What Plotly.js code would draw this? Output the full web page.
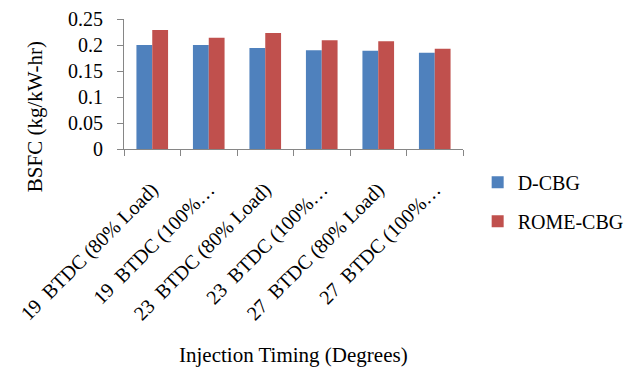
<!DOCTYPE html>
<html>
<head>
<meta charset="utf-8">
<script src="https://cdn.plot.ly/plotly-3.0.1.min.js"></script>
<style>html,body{margin:0;padding:0;background:#fff;}#chart{width:631px;height:376px;}</style>
</head>
<body>
<div id="chart"></div>
<script>
const categories = ["19 BTDC (80% Load)", "19 BTDC (100% Load)", "23 BTDC (80% Load)", "23 BTDC (100% Load)", "27 BTDC (80% Load)", "27 BTDC (100% Load)"];
const tickLabels = ["19\u00a0\u00a0BTDC (80% Load)", "19\u00a0\u00a0BTDC (100%\u2026", "23\u00a0\u00a0BTDC (80% Load)", "23\u00a0\u00a0BTDC (100%\u2026", "27\u00a0\u00a0BTDC (80% Load)", "27\u00a0\u00a0BTDC (100%\u2026"];
const dCBG = [0.200, 0.200, 0.194, 0.190, 0.189, 0.185];
const romeCBG = [0.229, 0.214, 0.223, 0.209, 0.207, 0.193];
const yTicks = [0, 0.05, 0.1, 0.15, 0.2, 0.25];

const font = "Liberation Serif";
const axisColor = "#868686";

const data = [
  {type: "bar", name: "D-CBG", x: categories, y: dCBG, marker: {color: "#4F81BD"}, legendgroup: "a"},
  {type: "bar", name: "ROME-CBG", x: categories, y: romeCBG, marker: {color: "#C0504D"}, legendgroup: "b"}
];

const layout = {
  width: 631, height: 376,
  margin: {l: 124, r: 168, t: 19, b: 227, pad: 0},
  paper_bgcolor: "#fff", plot_bgcolor: "#fff",
  font: {family: font, size: 20, color: "#000"},
  barmode: "group", bargap: 0.44, bargroupgap: 0,
  showlegend: true,
  legend: {xref: "container", yref: "container", x: 0.757, xanchor: "left", y: 0.567, yanchor: "top", traceorder: "grouped", tracegroupgap: 10, font: {family: font, size: 20, color: "#000"}, bgcolor: "rgba(0,0,0,0)"},
  xaxis: {
    type: "category", tickmode: "array", tickvals: categories, ticktext: tickLabels,
    tickangle: -45, tickson: "boundaries", ticks: "outside", ticklen: 6, tickcolor: axisColor,
    showline: true, linecolor: axisColor, linewidth: 1, showgrid: false, zeroline: false,
    tickfont: {family: font, size: 20, color: "#000"}, ticklabelstandoff: 20, automargin: false
  },
  yaxis: {
    range: [0, 0.25], tickmode: "array", tickvals: yTicks, ticks: "outside", ticklen: 6, tickcolor: axisColor,
    showline: true, linecolor: axisColor, linewidth: 1, showgrid: false, zeroline: false,
    tickfont: {family: font, size: 20, color: "#000"}, ticklabelstandoff: 10, automargin: false
  },
  annotations: [
    {text: "BSFC (kg/kW-hr)", xref: "paper", yref: "paper", x: -0.262, y: 0.246, textangle: -90, showarrow: false, font: {family: font, size: 21, color: "#000"}, xanchor: "center", yanchor: "middle"},
    {text: "Injection Timing (Degrees)", xref: "paper", yref: "paper", x: 0.499, y: -1.585, showarrow: false, font: {family: font, size: 21, color: "#000"}, xanchor: "center", yanchor: "middle"}
  ]
};

Plotly.newPlot("chart", data, layout, {displayModeBar: false, staticPlot: true});
</script>
</body>
</html>
